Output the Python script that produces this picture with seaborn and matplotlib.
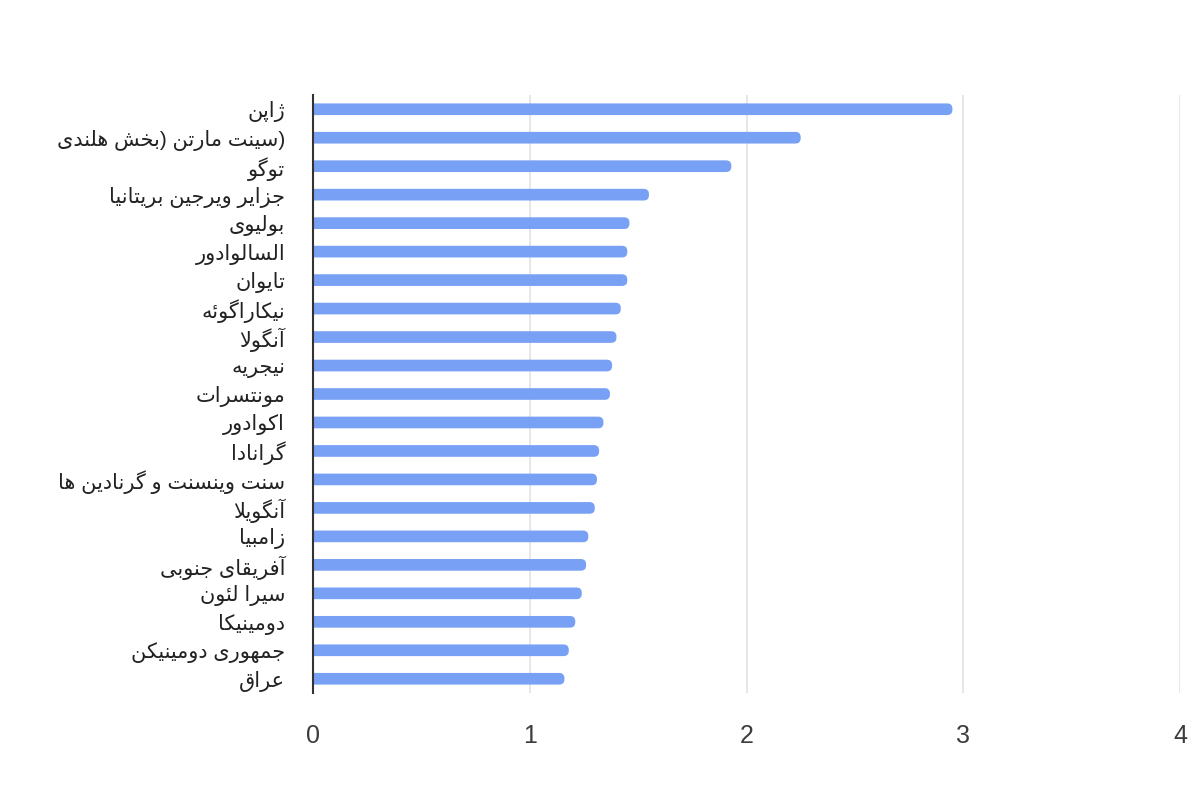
import numpy as np
import pandas as pd
import matplotlib
matplotlib.use("Agg")
import matplotlib.pyplot as plt
import seaborn as sns
from matplotlib.patches import FancyBboxPatch

# ---------------- data ----------------
countries = [
    "ژاپن",
    "(سینت مارتن (بخش هلندی",
    "توگو",
    "جزایر ویرجین بریتانیا",
    "بولیوی",
    "السالوادور",
    "تایوان",
    "نیکاراگوئه",
    "آنگولا",
    "نیجریه",
    "مونتسرات",
    "اکوادور",
    "گرانادا",
    "سنت وینسنت و گرنادین ها",
    "آنگویلا",
    "زامبیا",
    "آفریقای جنوبی",
    "سیرا لئون",
    "دومینیکا",
    "جمهوری دومینیکن",
    "عراق",
]
values = [2.95, 2.25, 1.93, 1.55, 1.46, 1.45, 1.45, 1.42, 1.40, 1.38, 1.37,
          1.34, 1.32, 1.31, 1.30, 1.27, 1.26, 1.24, 1.21, 1.18, 1.16]
x_ticks = [0, 1, 2, 3, 4]
x_tick_labels = ["0", "1", "2", "3", "4"]

BAR_COLOR = "#78A1F5"

# ---------------- minimal Arabic/Persian shaping + RTL display ----------------
def _d(base):
    return (base, base + 1, base + 2, base + 3)

def _r(base):
    return (base, base + 1, None, None)

FORMS = {
    "\u0621": (0xFE80, None, None, None),
    "\u0622": _r(0xFE81), "\u0623": _r(0xFE83), "\u0624": _r(0xFE85),
    "\u0625": _r(0xFE87), "\u0626": _d(0xFE89), "\u0627": _r(0xFE8D),
    "\u0628": _d(0xFE8F), "\u0629": _r(0xFE93), "\u062A": _d(0xFE95),
    "\u062B": _d(0xFE99), "\u062C": _d(0xFE9D), "\u062D": _d(0xFEA1),
    "\u062E": _d(0xFEA5), "\u062F": _r(0xFEA9), "\u0630": _r(0xFEAB),
    "\u0631": _r(0xFEAD), "\u0632": _r(0xFEAF), "\u0633": _d(0xFEB1),
    "\u0634": _d(0xFEB5), "\u0635": _d(0xFEB9), "\u0636": _d(0xFEBD),
    "\u0637": _d(0xFEC1), "\u0638": _d(0xFEC5), "\u0639": _d(0xFEC9),
    "\u063A": _d(0xFECD), "\u0641": _d(0xFED1), "\u0642": _d(0xFED5),
    "\u0643": _d(0xFED9), "\u0644": _d(0xFEDD), "\u0645": _d(0xFEE1),
    "\u0646": _d(0xFEE5), "\u0647": _d(0xFEE9), "\u0648": _r(0xFEED),
    "\u0649": _r(0xFEEF), "\u064A": _d(0xFEF1),
    "\u067E": _d(0xFB56), "\u0686": _d(0xFB7A), "\u0698": _r(0xFB8A),
    "\u06A9": _d(0xFB8E), "\u06AF": _d(0xFB92), "\u06CC": _d(0xFBFC),
}
LAMALEF = {"\u0622": (0xFEF5, 0xFEF6), "\u0623": (0xFEF7, 0xFEF8),
           "\u0625": (0xFEF9, 0xFEFA), "\u0627": (0xFEFB, 0xFEFC)}
MIRROR = {"(": ")", ")": "("}


def _joins_next(ch):
    return ch in FORMS and FORMS[ch][2] is not None


def shape(text):
    out = []
    n = len(text)
    i = 0
    while i < n:
        c = text[i]
        if c not in FORMS:
            out.append(c)
            i += 1
            continue
        prev = text[i - 1] if i > 0 else None
        cp = prev is not None and _joins_next(prev)
        if c == "\u0644" and i + 1 < n and text[i + 1] in LAMALEF:
            iso, fin = LAMALEF[text[i + 1]]
            out.append(chr(fin if cp else iso))
            i += 2
            continue
        nxt = text[i + 1] if i + 1 < n else None
        cn = _joins_next(c) and nxt is not None and nxt in FORMS
        iso, fin, ini, med = FORMS[c]
        if cp and cn:
            f = med
        elif cp:
            f = fin
        elif cn:
            f = ini
        else:
            f = iso
        out.append(chr(f))
        i += 1
    return "".join(out)


def visual(text):
    s = shape(text)[::-1]
    return "".join(MIRROR.get(c, c) for c in s)


# ---------------- plot ----------------
sns.set_theme(style="white")
plt.rcParams["font.family"] = ["Liberation Sans", "DejaVu Sans"]

fig = plt.figure(figsize=(12, 8), dpi=100)
ax = fig.add_axes([313 / 1200, 1 - 693 / 800, (1180 - 313) / 1200, (693 - 95) / 800])

df = pd.DataFrame({"country": countries, "value": values})
sns.barplot(data=df, x="value", y="country", orient="h", color=BAR_COLOR,
            saturation=1, width=0.41, ax=ax)

ax.set_xlim(0, 4)
ax.set_xticks(x_ticks)
ax.set_xticklabels(x_tick_labels)
ax.set_yticks(range(len(countries)))
ax.set_yticklabels([visual(c) for c in countries])
ax.set_xlabel("")
ax.set_ylabel("")

ax.grid(axis="x", color="#e0e0e0", linewidth=1.1)
ax.grid(axis="y", visible=False)
ax.set_axisbelow(True)
for side in ["top", "right", "bottom"]:
    ax.spines[side].set_visible(False)
ax.spines["left"].set_color("#333333")
ax.spines["left"].set_linewidth(1.5)
ax.spines["left"].set_zorder(5)

ax.tick_params(axis="x", length=0, pad=22, labelsize=18, labelcolor="#3c3c3c")
ax.tick_params(axis="y", length=0, pad=20, labelsize=15, labelcolor="#222222")

# rounded bar ends, derived from seaborn's bars
fig.canvas.draw()
o = ax.transData.transform((0, 0))
px_x = ax.transData.transform((1, 0))[0] - o[0]
px_y = abs(ax.transData.transform((0, 1))[1] - o[1])
asp = px_x / px_y
for p in list(ax.patches):
    x0, y0, w, h = p.get_x(), p.get_y(), p.get_width(), p.get_height()
    r = h / asp / 2 * 0.9
    ext = 3 * r
    fb = FancyBboxPatch((x0 - ext, y0), w + ext, h,
                        boxstyle=f"round,pad=0,rounding_size={r}",
                        mutation_aspect=asp, facecolor=p.get_facecolor(),
                        edgecolor="none", zorder=2)
    p.remove()
    ax.add_patch(fb)

fig.savefig("out.png", dpi=100, facecolor="white")
